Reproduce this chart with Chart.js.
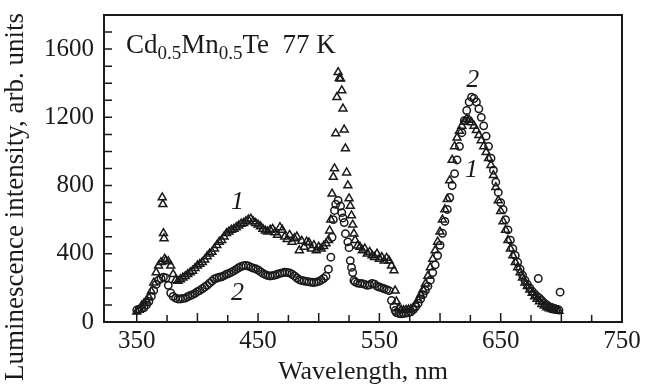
<!DOCTYPE html>
<html><head><meta charset="utf-8">
<script src="https://cdn.jsdelivr.net/npm/chart.js@4/dist/chart.umd.min.js"></script>
<style>html,body{margin:0;padding:0;background:#fff}#wrap{width:646px;height:390px}</style>
</head><body><div id="wrap"><canvas id="c" width="646" height="390"></canvas></div>
<script>
// Tick labels
const xTickLabels = [350, 450, 550, 650, 750];
const yTickLabels = [0, 400, 800, 1200, 1600];
// Series 1 (triangles): [wavelength nm, intensity]
const series1 = [[350,60],[352,70],[354,95],[356,110],[358,125],[360,145],[362,180],[364,230],[366,290],[368,330],[370,350],[371,730],[371.5,690],[372,520],[372.5,490],[373,370],[374,360],[376,355],[378,330],[380,280],[382,245],[384,240],[386,250],[388,260],[390,268],[392,280],[394,290],[396,300],[398,315],[400,330],[402,340],[404,350],[406,365],[408,385],[410,400],[412,410],[414,430],[416,450],[418,470],[420,480],[422,500],[424,520],[426,530],[428,540],[430,545],[432,555],[434,565],[436,575],[438,580],[440,590],[442,600],[444,605],[446,590],[448,580],[450,570],[452,560],[454,545],[456,535],[458,530],[460,540],[462,545],[464,525],[466,510],[468,555],[470,540],[472,500],[474,485],[476,510],[478,470],[480,490],[482,500],[484,420],[486,475],[488,440],[490,470],[492,465],[494,430],[496,450],[498,420],[500,440],[502,430],[504,445],[506,460],[508,480],[509,536],[510,600],[511,752],[512,850],[513,900],[514,1105],[515,1318],[516,1464],[517,1430],[518,1427],[519,1357],[520,1251],[521,1128],[522,1017],[523,876],[524,800],[525,724],[526,680],[527,624],[528,570],[529,518],[530,480],[532,448],[534,440],[536,420],[538,430],[540,400],[542,410],[544,390],[546,380],[548,400],[550,370],[552,380],[554,360],[556,375],[558,360],[560,330],[562,302],[563,184],[564,120],[566,80],[568,70],[570,68],[572,70],[574,72],[576,75],[578,85],[580,105],[582,130],[584,160],[586,190],[588,225],[590,270],[592,320],[594,370],[596,420],[598,470],[600,530],[602,600],[604,660],[606,720],[608,830],[610,950],[612,1030],[614,1080],[616,1120],[618,1150],[620,1175],[622,1190],[624,1185],[626,1170],[628,1150],[630,1125],[632,1095],[634,1065],[636,1030],[638,995],[640,960],[642,920],[644,860],[646,790],[648,712],[650,650],[652,590],[654,540],[656,480],[658,430],[660,390],[662,350],[664,320],[666,290],[668,260],[670,230],[672,210],[674,190],[676,170],[678,150],[680,135],[682,120],[684,105],[686,95],[688,85],[690,80],[692,75],[694,70],[696,68],[698,65]];
// Series 2 (circles): [wavelength nm, intensity]
const series2 = [[350,70],[352,75],[354,80],[356,85],[358,100],[360,120],[362,150],[364,185],[366,220],[368,245],[370,255],[372,262],[374,258],[376,215],[378,170],[380,150],[382,140],[384,135],[386,135],[388,138],[390,140],[392,148],[394,155],[396,160],[398,168],[400,178],[402,185],[404,195],[406,205],[408,215],[410,228],[412,240],[414,252],[416,258],[418,262],[420,265],[422,272],[424,280],[426,285],[428,292],[430,300],[432,308],[434,318],[436,325],[438,330],[440,332],[442,328],[444,322],[446,316],[448,312],[450,305],[452,295],[454,285],[456,278],[458,272],[460,270],[462,272],[464,275],[466,280],[468,285],[470,288],[472,292],[474,290],[476,288],[478,280],[480,270],[482,258],[484,248],[486,243],[488,240],[490,238],[492,235],[494,233],[496,232],[498,234],[500,238],[502,245],[504,255],[506,268],[508,310],[510,380],[511,497],[512,600],[513,654],[514,690],[516,713],[518,680],[519,641],[520,610],[521,583],[522,518],[524,470],[525,436],[526,360],[527,320],[528,290],[529,243],[530,235],[532,228],[534,226],[536,225],[538,220],[540,215],[542,218],[544,226],[546,222],[548,210],[550,205],[552,200],[554,195],[556,190],[558,184],[560,126],[562,90],[563,67],[564,55],[566,50],[568,48],[570,50],[572,52],[574,55],[576,60],[578,72],[580,90],[582,110],[584,135],[586,160],[588,185],[590,210],[592,245],[594,290],[596,335],[598,390],[600,450],[602,520],[604,590],[606,660],[608,730],[610,800],[612,870],[614,950],[616,1030],[618,1110],[620,1180],[622,1240],[624,1290],[626,1318],[628,1310],[630,1290],[632,1250],[634,1200],[636,1150],[638,1090],[640,1030],[642,960],[644,890],[646,820],[648,760],[650,700],[652,660],[654,600],[656,540],[658,480],[660,430],[662,390],[664,350],[666,310],[668,275],[670,245],[672,220],[674,200],[676,180],[678,165],[680,150],[681,255],[682,140],[684,125],[686,110],[688,100],[690,90],[692,85],[694,80],[696,75],[698,70],[699,175]];
// Curve number labels: [text, wavelength, intensity]
const curveLabels = [['1',433,700],['2',433,167],['2',627,1420],['1',626,890]];

const INK = '#1a1a1a';
const SERIF = 'Liberation Serif';

const framePlugin = {
  id: 'frame',
  afterDatasetsDraw(chart) {
    const {ctx, chartArea: a, scales: {x, y}} = chart;
    ctx.save();
    ctx.strokeStyle = INK;
    ctx.lineWidth = 2;
    ctx.strokeRect(a.left, a.top, a.right - a.left, a.bottom - a.top);
    ctx.lineWidth = 1.5;
    ctx.beginPath();
    for (let v = 350; v < 750; v += 25) {
      const px = x.getPixelForValue(v);
      const len = v % 50 === 0 ? 9 : 7;
      ctx.moveTo(px, a.bottom); ctx.lineTo(px, a.bottom - len);
    }
    for (let v = 100; v < 1800; v += 100) {
      const py = y.getPixelForValue(v);
      ctx.moveTo(a.left, py); ctx.lineTo(a.left + 8, py);
    }
    ctx.stroke();
    ctx.fillStyle = INK;
    // y axis title
    ctx.save();
    ctx.translate(16, 197);
    ctx.rotate(-Math.PI / 2);
    ctx.font = '27px ' + SERIF;
    ctx.textAlign = 'center';
    ctx.textBaseline = 'middle';
    ctx.fillText('Luminescence intensity, arb. units', 0, 0);
    ctx.restore();
    // curve labels
    ctx.font = 'italic 26px ' + SERIF;
    ctx.textAlign = 'center';
    ctx.textBaseline = 'middle';
    curveLabels.forEach(([t, wx, wy]) => {
      ctx.fillText(t, x.getPixelForValue(wx), y.getPixelForValue(wy));
    });
    // sample annotation
    ctx.textAlign = 'left';
    ctx.textBaseline = 'alphabetic';
    let cx = a.left + 22;
    const by = a.top + 38;
    const parts = [['Cd', 0], ['0.5', 1], ['Mn', 0], ['0.5', 1], ['Te  77 K', 0]];
    parts.forEach(([t, sub]) => {
      ctx.font = (sub ? '19px ' : '27px ') + SERIF;
      ctx.fillText(t, cx, by + (sub ? 6 : 0));
      cx += ctx.measureText(t).width;
    });
    ctx.restore();
  }
};

new Chart(document.getElementById('c'), {
  type: 'scatter',
  data: {
    datasets: [
      { label: '1', data: series1.map(p => ({x: p[0], y: p[1]})), pointStyle: 'triangle', pointRadius: 4.6, borderColor: INK, backgroundColor: 'rgba(255,255,255,0)', borderWidth: 1.5 },
      { label: '2', data: series2.map(p => ({x: p[0], y: p[1]})), pointStyle: 'circle', pointRadius: 3.7, borderColor: INK, backgroundColor: 'rgba(255,255,255,0)', borderWidth: 1.5 }
    ]
  },
  options: {
    responsive: false, animation: false, devicePixelRatio: 1,
    layout: { padding: { top: 15, right: 24, left: 0, bottom: 0 } },
    plugins: { legend: { display: false }, tooltip: { enabled: false } },
    scales: {
      x: {
        type: 'linear', min: 323, max: 750,
        afterBuildTicks: s => { s.ticks = xTickLabels.map(v => ({value: v})); },
        afterFit: s => { s.height = 68; },
        grid: { display: false, drawTicks: false },
        border: { display: false },
        ticks: { color: INK, font: { family: SERIF, size: 25 }, padding: 4, maxRotation: 0, autoSkip: false, callback: v => String(v) },
        title: { display: true, text: 'Wavelength, nm', color: INK, font: { family: SERIF, size: 26 }, padding: { top: 0, bottom: 2 } }
      },
      y: {
        min: 0, max: 1800,
        afterBuildTicks: s => { s.ticks = yTickLabels.map(v => ({value: v})); },
        afterFit: s => { s.width = 104; },
        grid: { display: false, drawTicks: false },
        border: { display: false },
        ticks: { color: INK, font: { family: SERIF, size: 25, lineHeight: 0.4 }, padding: 10, autoSkip: false, callback: v => String(v) },
        title: { display: false }
      }
    }
  },
  plugins: [framePlugin]
});
</script></body></html>
